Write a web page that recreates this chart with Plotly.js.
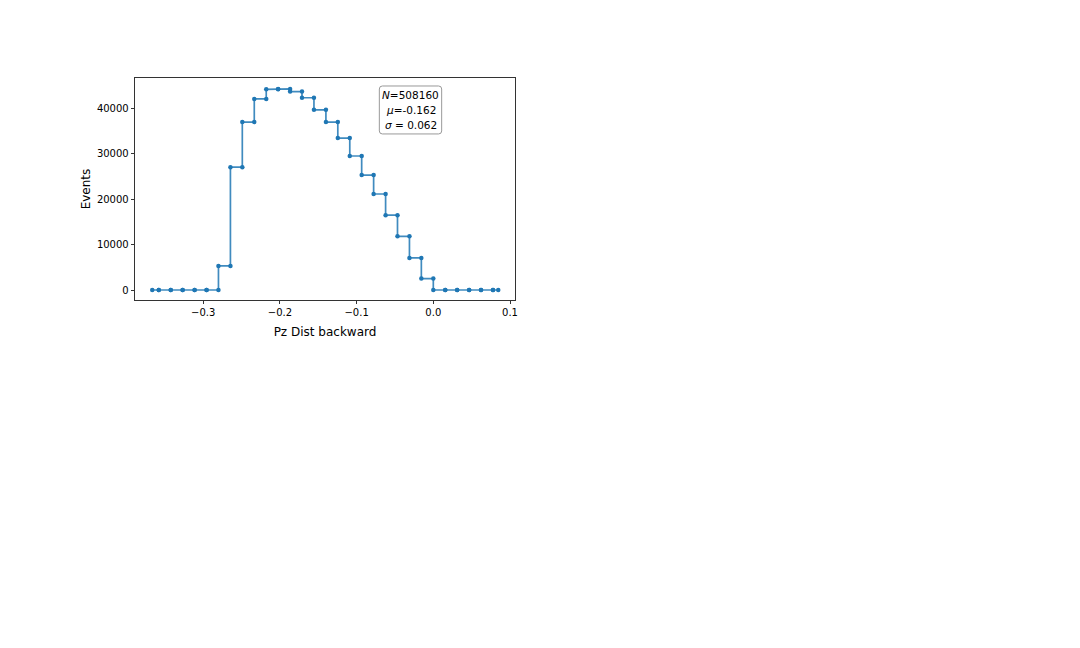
<!DOCTYPE html>
<html>
<head>
<meta charset="utf-8">
<script src="https://cdn.plot.ly/plotly-3.0.1.min.js"></script>
<style>html,body{margin:0;padding:0;background:#fff;}#chart{width:1080px;height:648px;}</style>
</head>
<body>
<div id="chart"></div>
<script>
// Bin edges (Pz) and event counts per bin
const binEdges = [-0.3664, -0.3579, -0.3423, -0.3268, -0.3112, -0.2956, -0.2801, -0.2645, -0.2490,
  -0.2334, -0.2178, -0.2023, -0.1867, -0.1712, -0.1556, -0.1400, -0.1245, -0.1089, -0.0934,
  -0.0778, -0.0622, -0.0467, -0.0311, -0.0156, 0.0, 0.0156, 0.0311, 0.0467, 0.0622, 0.0778, 0.0847];
const binCounts = [0, 0, 0, 0, 0, 0, 5300, 27000, 36900, 42000, 44100, 44200, 43600, 42250,
  39600, 36900, 33400, 29450, 25250, 21100, 16450, 11800, 7050, 2500, 0, 0, 0, 0, 0, 0];
const xTickVals = [-0.3, -0.2, -0.1, 0.0, 0.1];
const yTickVals = [0, 10000, 20000, 30000, 40000];
const statLines = ["<i>N</i>=508160", "<i>μ</i>=-0.162", "<i>σ</i> = 0.062"];

// Build step coordinates: each bin drawn as a horizontal segment between its edges
const xs = [], ys = [];
for (let i = 0; i < binCounts.length; i++) {
  xs.push(binEdges[i]); ys.push(binCounts[i]);
  xs.push(binEdges[i + 1]); ys.push(binCounts[i]);
}

const font = "DejaVu Sans, sans-serif";
const trace = {
  x: xs, y: ys, type: "scatter", mode: "lines+markers",
  line: {color: "rgba(31,119,180,0.85)", width: 1.7},
  marker: {color: "#1f77b4", size: 4.5},
  hoverinfo: "skip", showlegend: false
};

// stat box: rounded rectangle in paper coordinates
const bx0 = 0.643, bx1 = 0.807, by0 = 0.748, by1 = 0.964, rx = 0.008, ry = 0.0135;
const boxPath = `M ${bx0+rx},${by0} L ${bx1-rx},${by0} Q ${bx1},${by0} ${bx1},${by0+ry} L ${bx1},${by1-ry} Q ${bx1},${by1} ${bx1-rx},${by1} L ${bx0+rx},${by1} Q ${bx0},${by1} ${bx0},${by1-ry} L ${bx0},${by0+ry} Q ${bx0},${by0} ${bx0+rx},${by0} Z`;

const lineY = [0.9234, 0.8559, 0.7883];
const annotations = statLines.map((t, i) => ({
  xref: "paper", yref: "paper", x: 0.725, y: lineY[i], xanchor: "center", yanchor: "middle",
  text: t, showarrow: false, font: {family: font, size: 10.5, color: "#000"}
}));

const layout = {
  width: 1080, height: 648,
  margin: {l: 135, r: 565, t: 78, b: 348, pad: 0},
  paper_bgcolor: "#fff", plot_bgcolor: "#fff",
  font: {family: font, size: 10, color: "#000"},
  xaxis: {
    range: [-0.3889, 0.1065], tickvals: xTickVals, tickformat: ".1f",
    ticks: "outside", ticklen: 3.5, tickwidth: 0.8, tickcolor: "#000",
    showline: true, mirror: true, linecolor: "#000", linewidth: 0.8,
    showgrid: false, zeroline: false,
    tickfont: {family: font, size: 10, color: "#000"},
    title: {text: "Pz Dist backward", font: {family: font, size: 12, color: "#000"}, standoff: 10}
  },
  yaxis: {
    range: [-2198, 46593], tickvals: yTickVals, tickformat: "d",
    ticks: "outside", ticklen: 3.5, tickwidth: 0.8, tickcolor: "#000",
    showline: true, mirror: true, linecolor: "#000", linewidth: 0.8,
    showgrid: false, zeroline: false,
    tickfont: {family: font, size: 10, color: "#000"},
    title: {text: "Events", font: {family: font, size: 12, color: "#000"}, standoff: 3}
  },
  shapes: [{type: "path", xref: "paper", yref: "paper", path: boxPath,
    line: {color: "#999", width: 1}, fillcolor: "rgba(255,255,255,0.8)", layer: "above"}],
  annotations: annotations
};

Plotly.newPlot("chart", [trace], layout, {displayModeBar: false, staticPlot: true});
</script>
</body>
</html>
